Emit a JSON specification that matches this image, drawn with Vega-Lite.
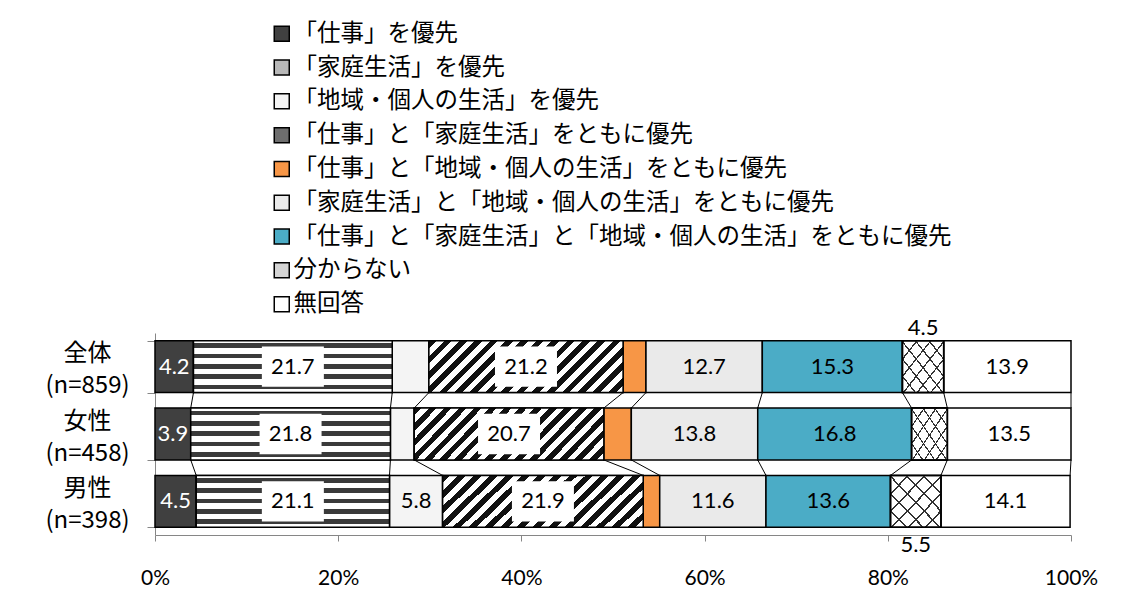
{
  "$schema": "https://vega.github.io/schema/vega-lite/v6.json",
  "width": 916,
  "height": 202,
  "autosize": {"type": "none"},
  "padding": {"left": 155, "top": 333, "right": 65, "bottom": 67},
  "background": "white",
  "config": {"view": {"stroke": null}, "font": "Noto Sans CJK JP"},
  "datasets": {
    "d": [
      {"g": "全体", "cat": "「仕事」を優先", "o": 1, "v": 4.2},
      {"g": "全体", "cat": "「家庭生活」を優先", "o": 2, "v": 21.7},
      {"g": "全体", "cat": "「地域・個人の生活」を優先", "o": 3, "v": 4.0},
      {"g": "全体", "cat": "「仕事」と「家庭生活」をともに優先", "o": 4, "v": 21.2},
      {"g": "全体", "cat": "「仕事」と「地域・個人の生活」をともに優先", "o": 5, "v": 2.5},
      {"g": "全体", "cat": "「家庭生活」と「地域・個人の生活」をともに優先", "o": 6, "v": 12.7},
      {"g": "全体", "cat": "「仕事」と「家庭生活」と「地域・個人の生活」をともに優先", "o": 7, "v": 15.3},
      {"g": "全体", "cat": "分からない", "o": 8, "v": 4.5},
      {"g": "全体", "cat": "無回答", "o": 9, "v": 13.9},
      {"g": "女性", "cat": "「仕事」を優先", "o": 1, "v": 3.9},
      {"g": "女性", "cat": "「家庭生活」を優先", "o": 2, "v": 21.8},
      {"g": "女性", "cat": "「地域・個人の生活」を優先", "o": 3, "v": 2.6},
      {"g": "女性", "cat": "「仕事」と「家庭生活」をともに優先", "o": 4, "v": 20.7},
      {"g": "女性", "cat": "「仕事」と「地域・個人の生活」をともに優先", "o": 5, "v": 3.0},
      {"g": "女性", "cat": "「家庭生活」と「地域・個人の生活」をともに優先", "o": 6, "v": 13.8},
      {"g": "女性", "cat": "「仕事」と「家庭生活」と「地域・個人の生活」をともに優先", "o": 7, "v": 16.8},
      {"g": "女性", "cat": "分からない", "o": 8, "v": 3.9},
      {"g": "女性", "cat": "無回答", "o": 9, "v": 13.5},
      {"g": "男性", "cat": "「仕事」を優先", "o": 1, "v": 4.5},
      {"g": "男性", "cat": "「家庭生活」を優先", "o": 2, "v": 21.1},
      {"g": "男性", "cat": "「地域・個人の生活」を優先", "o": 3, "v": 5.8},
      {"g": "男性", "cat": "「仕事」と「家庭生活」をともに優先", "o": 4, "v": 21.9},
      {"g": "男性", "cat": "「仕事」と「地域・個人の生活」をともに優先", "o": 5, "v": 1.8},
      {"g": "男性", "cat": "「家庭生活」と「地域・個人の生活」をともに優先", "o": 6, "v": 11.6},
      {"g": "男性", "cat": "「仕事」と「家庭生活」と「地域・個人の生活」をともに優先", "o": 7, "v": 13.6},
      {"g": "男性", "cat": "分からない", "o": 8, "v": 5.5},
      {"g": "男性", "cat": "無回答", "o": 9, "v": 14.1}
    ]
  },
  "data": {"name": "d"},
  "layer": [
    {
      "transform": [
        {"stack": "v", "groupby": ["g"], "sort": [{"field": "o"}], "as": ["s0", "s1"]},
        {"pivot": "g", "value": "s1", "groupby": ["o"]}
      ],
      "mark": {"type": "rule", "stroke": "black", "strokeWidth": 1},
      "encoding": {
        "x": {"field": "全体", "type": "quantitative"},
        "x2": {"field": "女性"},
        "y": {"datum": "全体", "type": "nominal", "bandPosition": 1},
        "y2": {"datum": "女性", "bandPosition": 0}
      }
    },
    {
      "transform": [
        {"stack": "v", "groupby": ["g"], "sort": [{"field": "o"}], "as": ["s0", "s1"]},
        {"pivot": "g", "value": "s1", "groupby": ["o"]}
      ],
      "mark": {"type": "rule", "stroke": "black", "strokeWidth": 1},
      "encoding": {
        "x": {"field": "女性", "type": "quantitative"},
        "x2": {"field": "男性"},
        "y": {"datum": "女性", "type": "nominal", "bandPosition": 1},
        "y2": {"datum": "男性", "bandPosition": 0}
      }
    },
    {
      "mark": {"type": "bar", "stroke": "black", "strokeWidth": 1.5},
      "encoding": {
        "x": {
          "field": "v", "type": "quantitative", "stack": "zero",
          "scale": {"domain": [0, 100], "nice": false},
          "axis": {
            "title": null, "values": [0, 20, 40, 60, 80, 100], "labelExpr": "datum.value + '%'",
            "grid": false, "domainColor": "#868686", "tickColor": "#868686", "tickSize": 6,
            "labelPadding": 26, "labelFontSize": 21, "labelFont": "Lato", "labelColor": "black",
            "labelFlush": false, "labelOverlap": false
          }
        },
        "y": {
          "field": "g", "type": "nominal", "sort": ["全体", "女性", "男性"],
          "scale": {"paddingInner": 0.23, "paddingOuter": 0.115},
          "axis": {
            "title": null, "domainColor": "#868686", "tickColor": "#868686", "tickSize": 8,
            "tickBand": "extent", "labelFontSize": 24, "labelFont": "Noto Sans CJK JP", "labelColor": "black",
            "labelAlign": "center", "labelBaseline": "middle", "labelPadding": 60, "labelLineHeight": 32,
            "labelOffset": -13,
            "labelExpr": "datum.value == '全体' ? ['全体','(n=859)'] : datum.value == '女性' ? ['女性','(n=458)'] : datum.value == '男性' ? ['男性','(n=398)'] : ''"
          }
        },
        "color": {
          "field": "cat", "type": "nominal",
          "scale": {
            "domain": [
              "「仕事」を優先",
              "「家庭生活」を優先",
              "「地域・個人の生活」を優先",
              "「仕事」と「家庭生活」をともに優先",
              "「仕事」と「地域・個人の生活」をともに優先",
              "「家庭生活」と「地域・個人の生活」をともに優先",
              "「仕事」と「家庭生活」と「地域・個人の生活」をともに優先",
              "分からない",
              "無回答"
            ],
            "range": ["#404040", "#b8b8b8", "#f4f4f4", "#6e6e6e", "#f79646", "#eaeaea", "#4bacc6", "#d4d4d4", "#ffffff"]
          },
          "legend": {
            "orient": "none", "legendX": 115, "legendY": -311, "title": null, "direction": "vertical",
            "symbolType": "square", "symbolSize": 225, "symbolStrokeColor": "black", "symbolStrokeWidth": 1.5,
            "labelFontSize": 23.5, "labelFont": "Noto Sans CJK JP", "labelColor": "black", "labelLimit": 0,
            "rowPadding": 8.8, "labelOffset": 0, "padding": 0
          }
        },
        "order": {"field": "o"}
      }
    },
    {
      "transform": [
        {"stack": "v", "groupby": ["g"], "sort": [{"field": "o"}], "as": ["s0", "s1"]},
        {"filter": "datum.o == 2"}
      ],
      "mark": {
        "type": "bar", "stroke": "black", "strokeWidth": 1.5,
        "fill": {
          "gradient": "linear", "x1": 0, "y1": 0, "x2": 0, "y2": 1,
          "stops": [
            {"offset": 0, "color": "#ffffff"}, {"offset": 0.05, "color": "#ffffff"}, {"offset": 0.05, "color": "#3a3a3a"}, {"offset": 0.14, "color": "#3a3a3a"}, {"offset": 0.14, "color": "#ffffff"},
            {"offset": 0.25, "color": "#ffffff"}, {"offset": 0.25, "color": "#3a3a3a"}, {"offset": 0.34, "color": "#3a3a3a"}, {"offset": 0.34, "color": "#ffffff"},
            {"offset": 0.45, "color": "#ffffff"}, {"offset": 0.45, "color": "#3a3a3a"}, {"offset": 0.54, "color": "#3a3a3a"}, {"offset": 0.54, "color": "#ffffff"},
            {"offset": 0.65, "color": "#ffffff"}, {"offset": 0.65, "color": "#3a3a3a"}, {"offset": 0.74, "color": "#3a3a3a"}, {"offset": 0.74, "color": "#ffffff"},
            {"offset": 0.85, "color": "#ffffff"}, {"offset": 0.85, "color": "#3a3a3a"}, {"offset": 0.94, "color": "#3a3a3a"}, {"offset": 0.94, "color": "#ffffff"},
            {"offset": 1, "color": "#ffffff"}
          ]
        }
      },
      "encoding": {
        "x": {"field": "s0", "type": "quantitative"},
        "x2": {"field": "s1"},
        "y": {"field": "g", "type": "nominal", "sort": ["全体", "女性", "男性"]}
      }
    },
    {
      "transform": [
        {"stack": "v", "groupby": ["g"], "sort": [{"field": "o"}], "as": ["s0", "s1"]},
        {"filter": "datum.o == 4"}
      ],
      "mark": {
        "type": "bar", "stroke": "black", "strokeWidth": 1.5,
        "fill": {
          "gradient": "linear", "x1": 0, "y1": 0, "x2": 1.183, "y2": 0.316,
          "stops": [
            {"offset": 0, "color": "#111111"}, {"offset": 0.03125, "color": "#111111"}, {"offset": 0.03125, "color": "#ffffff"}, {"offset": 0.0625, "color": "#ffffff"},
            {"offset": 0.0625, "color": "#111111"}, {"offset": 0.09375, "color": "#111111"}, {"offset": 0.09375, "color": "#ffffff"}, {"offset": 0.125, "color": "#ffffff"},
            {"offset": 0.125, "color": "#111111"}, {"offset": 0.15625, "color": "#111111"}, {"offset": 0.15625, "color": "#ffffff"}, {"offset": 0.1875, "color": "#ffffff"},
            {"offset": 0.1875, "color": "#111111"}, {"offset": 0.21875, "color": "#111111"}, {"offset": 0.21875, "color": "#ffffff"}, {"offset": 0.25, "color": "#ffffff"},
            {"offset": 0.25, "color": "#111111"}, {"offset": 0.28125, "color": "#111111"}, {"offset": 0.28125, "color": "#ffffff"}, {"offset": 0.3125, "color": "#ffffff"},
            {"offset": 0.3125, "color": "#111111"}, {"offset": 0.34375, "color": "#111111"}, {"offset": 0.34375, "color": "#ffffff"}, {"offset": 0.375, "color": "#ffffff"},
            {"offset": 0.375, "color": "#111111"}, {"offset": 0.40625, "color": "#111111"}, {"offset": 0.40625, "color": "#ffffff"}, {"offset": 0.4375, "color": "#ffffff"},
            {"offset": 0.4375, "color": "#111111"}, {"offset": 0.46875, "color": "#111111"}, {"offset": 0.46875, "color": "#ffffff"}, {"offset": 0.5, "color": "#ffffff"},
            {"offset": 0.5, "color": "#111111"}, {"offset": 0.53125, "color": "#111111"}, {"offset": 0.53125, "color": "#ffffff"}, {"offset": 0.5625, "color": "#ffffff"},
            {"offset": 0.5625, "color": "#111111"}, {"offset": 0.59375, "color": "#111111"}, {"offset": 0.59375, "color": "#ffffff"}, {"offset": 0.625, "color": "#ffffff"},
            {"offset": 0.625, "color": "#111111"}, {"offset": 0.65625, "color": "#111111"}, {"offset": 0.65625, "color": "#ffffff"}, {"offset": 0.6875, "color": "#ffffff"},
            {"offset": 0.6875, "color": "#111111"}, {"offset": 0.71875, "color": "#111111"}, {"offset": 0.71875, "color": "#ffffff"}, {"offset": 0.75, "color": "#ffffff"},
            {"offset": 0.75, "color": "#111111"}, {"offset": 0.78125, "color": "#111111"}, {"offset": 0.78125, "color": "#ffffff"}, {"offset": 0.8125, "color": "#ffffff"},
            {"offset": 0.8125, "color": "#111111"}, {"offset": 0.84375, "color": "#111111"}, {"offset": 0.84375, "color": "#ffffff"}, {"offset": 0.875, "color": "#ffffff"},
            {"offset": 0.875, "color": "#111111"}, {"offset": 0.90625, "color": "#111111"}, {"offset": 0.90625, "color": "#ffffff"}, {"offset": 0.9375, "color": "#ffffff"},
            {"offset": 0.9375, "color": "#111111"}, {"offset": 0.96875, "color": "#111111"}, {"offset": 0.96875, "color": "#ffffff"}, {"offset": 1, "color": "#ffffff"}
          ]
        }
      },
      "encoding": {
        "x": {"field": "s0", "type": "quantitative"},
        "x2": {"field": "s1"},
        "y": {"field": "g", "type": "nominal", "sort": ["全体", "女性", "男性"]}
      }
    },
    {
      "transform": [
        {"stack": "v", "groupby": ["g"], "sort": [{"field": "o"}], "as": ["s0", "s1"]},
        {"filter": "datum.o == 8"}
      ],
      "mark": {
        "type": "bar", "stroke": "black", "strokeWidth": 1.5,
        "fill": {
          "gradient": "linear", "x1": 0, "y1": 0, "x2": 1, "y2": 1,
          "stops": [
            {"offset": 0, "color": "#333333"}, {"offset": 0.02, "color": "#333333"}, {"offset": 0.02, "color": "#ffffff"}, {"offset": 0.16667, "color": "#ffffff"},
            {"offset": 0.16667, "color": "#333333"}, {"offset": 0.18667, "color": "#333333"}, {"offset": 0.18667, "color": "#ffffff"}, {"offset": 0.33333, "color": "#ffffff"},
            {"offset": 0.33333, "color": "#333333"}, {"offset": 0.35333, "color": "#333333"}, {"offset": 0.35333, "color": "#ffffff"}, {"offset": 0.5, "color": "#ffffff"},
            {"offset": 0.5, "color": "#333333"}, {"offset": 0.52, "color": "#333333"}, {"offset": 0.52, "color": "#ffffff"}, {"offset": 0.66667, "color": "#ffffff"},
            {"offset": 0.66667, "color": "#333333"}, {"offset": 0.68667, "color": "#333333"}, {"offset": 0.68667, "color": "#ffffff"}, {"offset": 0.83333, "color": "#ffffff"},
            {"offset": 0.83333, "color": "#333333"}, {"offset": 0.85333, "color": "#333333"}, {"offset": 0.85333, "color": "#ffffff"}, {"offset": 1, "color": "#ffffff"}
          ]
        }
      },
      "encoding": {
        "x": {"field": "s0", "type": "quantitative"},
        "x2": {"field": "s1"},
        "y": {"field": "g", "type": "nominal", "sort": ["全体", "女性", "男性"]}
      }
    },
    {
      "transform": [
        {"stack": "v", "groupby": ["g"], "sort": [{"field": "o"}], "as": ["s0", "s1"]},
        {"filter": "datum.o == 8"}
      ],
      "mark": {
        "type": "bar", "stroke": "black", "strokeWidth": 1.5,
        "fill": {
          "gradient": "linear", "x1": 1, "y1": 0, "x2": 0, "y2": 1,
          "stops": [
            {"offset": 0, "color": "#333333"}, {"offset": 0.02, "color": "#333333"}, {"offset": 0.02, "color": "rgba(255,255,255,0)"}, {"offset": 0.16667, "color": "rgba(255,255,255,0)"},
            {"offset": 0.16667, "color": "#333333"}, {"offset": 0.18667, "color": "#333333"}, {"offset": 0.18667, "color": "rgba(255,255,255,0)"}, {"offset": 0.33333, "color": "rgba(255,255,255,0)"},
            {"offset": 0.33333, "color": "#333333"}, {"offset": 0.35333, "color": "#333333"}, {"offset": 0.35333, "color": "rgba(255,255,255,0)"}, {"offset": 0.5, "color": "rgba(255,255,255,0)"},
            {"offset": 0.5, "color": "#333333"}, {"offset": 0.52, "color": "#333333"}, {"offset": 0.52, "color": "rgba(255,255,255,0)"}, {"offset": 0.66667, "color": "rgba(255,255,255,0)"},
            {"offset": 0.66667, "color": "#333333"}, {"offset": 0.68667, "color": "#333333"}, {"offset": 0.68667, "color": "rgba(255,255,255,0)"}, {"offset": 0.83333, "color": "rgba(255,255,255,0)"},
            {"offset": 0.83333, "color": "#333333"}, {"offset": 0.85333, "color": "#333333"}, {"offset": 0.85333, "color": "rgba(255,255,255,0)"}, {"offset": 1, "color": "rgba(255,255,255,0)"}
          ]
        }
      },
      "encoding": {
        "x": {"field": "s0", "type": "quantitative"},
        "x2": {"field": "s1"},
        "y": {"field": "g", "type": "nominal", "sort": ["全体", "女性", "男性"]}
      }
    },
    {
      "mark": {"type": "point", "filled": true, "fill": "white", "strokeWidth": 0, "shape": "M-1,-0.65H1V0.65H-1Z", "size": 3844},
      "encoding": {
        "x": {"field": "v", "type": "quantitative", "stack": "zero", "bandPosition": 0.5},
        "y": {"field": "g", "type": "nominal", "sort": ["全体", "女性", "男性"]},
        "order": {"field": "o"},
        "opacity": {"condition": {"test": "datum.o == 2 || datum.o == 4", "value": 1}, "value": 0}
      }
    },
    {
      "mark": {"type": "text", "font": "Lato", "fontSize": 22, "align": "center", "baseline": "middle"},
      "encoding": {
        "x": {"field": "v", "type": "quantitative", "stack": "zero", "bandPosition": 0.5},
        "y": {"field": "g", "type": "nominal", "sort": ["全体", "女性", "男性"]},
        "order": {"field": "o"},
        "text": {"condition": {"test": "datum.o == 1 || (datum.o != 8 && datum.v >= 5)", "field": "v", "type": "quantitative", "format": ".1f"}, "value": ""},
        "color": {"condition": {"test": "datum.o == 1", "value": "white"}, "value": "black"}
      }
    },
    {
      "mark": {"type": "text", "font": "Lato", "fontSize": 22, "align": "center", "baseline": "bottom", "dy": -1, "color": "black"},
      "encoding": {
        "x": {"field": "v", "type": "quantitative", "stack": "zero", "bandPosition": 0.5},
        "y": {"field": "g", "type": "nominal", "sort": ["全体", "女性", "男性"], "bandPosition": 0},
        "order": {"field": "o"},
        "text": {"condition": {"test": "datum.o == 8 && datum.g == '全体'", "field": "v", "type": "quantitative", "format": ".1f"}, "value": ""}
      }
    },
    {
      "mark": {"type": "text", "font": "Lato", "fontSize": 22, "align": "center", "baseline": "top", "dy": 8, "color": "black"},
      "encoding": {
        "x": {"field": "v", "type": "quantitative", "stack": "zero", "bandPosition": 0.5},
        "y": {"field": "g", "type": "nominal", "sort": ["全体", "女性", "男性"], "bandPosition": 1},
        "order": {"field": "o"},
        "text": {"condition": {"test": "datum.o == 8 && datum.g == '男性'", "field": "v", "type": "quantitative", "format": ".1f"}, "value": ""}
      }
    }
  ]
}
